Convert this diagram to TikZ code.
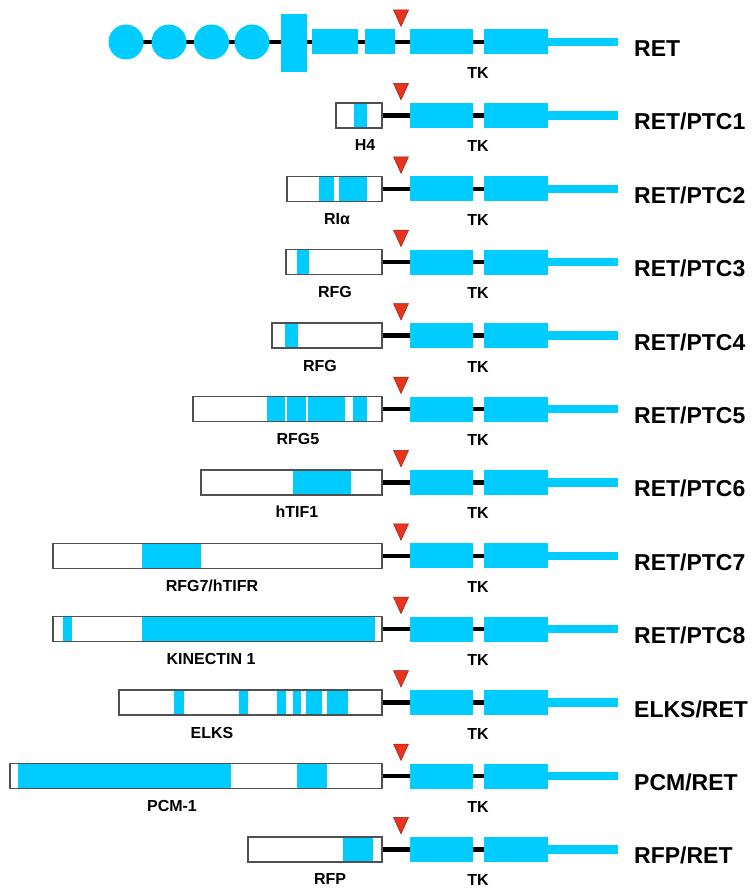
\documentclass[tikz,border=0pt]{standalone}
\usepackage{fontspec}
\setmainfont{Liberation Sans}
\definecolor{retcyan}{RGB}{0,204,255}
\definecolor{trired}{RGB}{232,52,30}
\definecolor{tribord}{RGB}{150,30,20}
\definecolor{boxgray}{RGB}{80,80,80}
\tikzset{
  dom/.style={fill=retcyan},
  linker/.style={line width=4.5pt, draw=black},
  partnerbox/.style={draw=boxgray, line width=1.3pt},
  bptri/.style={fill=trired, draw=tribord, line width=0.5pt},
  fuslabel/.style={font=\bfseries\fontsize{23}{23}\selectfont, anchor=base west, inner sep=0pt},
  domlabel/.style={font=\bfseries\fontsize{16}{16}\selectfont, anchor=base, inner sep=0pt},
}
\newcommand\RETtail[1]{%
  \fill[dom] (410,#1-12.5) rectangle (473,#1+12.5);
  \fill[dom] (484,#1-12.5) rectangle (548,#1+12.5);
  \fill[dom] (547,#1-4.2) rectangle (618,#1+4.2);
  \filldraw[bptri] (393.5,#1-32) -- (408.5,#1-32) -- (401,#1-15.5) -- cycle;
}
\newcommand\fusrow[7]{%
  \draw[linker] (382,#2) -- (486,#2);
  \fill[white] (#3,#2-12.5) rectangle (382,#2+12.5);
  \foreach \a/\b in {#4} {\fill[dom] (\a,#2-12.5) rectangle (\b,#2+12.5);}
  \draw[partnerbox] (#3,#2-12.5) rectangle (382,#2+12.5);
  \RETtail{#2}
  \node[domlabel] (g#1) at (#6,#2+35.5) {#5};
  \node[domlabel] (tk#1) at (478,#2+36.5) {TK};
  \node[fuslabel] (n#1) at (634,#2+14.5) {#7};
}
\begin{document}
\begin{tikzpicture}[x=1pt,y=-1pt]
\useasboundingbox (0,0) rectangle (752,888);
% RET
\draw[linker] (126,42) -- (486,42);
\foreach \cx in {126,169,211.5,252} {\fill[dom] (\cx,42) circle (17.5);}
\fill[dom] (281,14) rectangle (307,72);
\fill[dom] (312,29.5) rectangle (358,54.5);
\fill[dom] (365,29.5) rectangle (395,54.5);
\RETtail{42}
\node[domlabel] (tk0) at (478,78.5) {TK};
\node[fuslabel] (n0) at (634,56.5) {RET};
% fusions
\fusrow{1}{115.4}{336}{354/367}{H4}{365}{RET/PTC1}
\fusrow{2}{188.8}{287}{319/334,339/367}{RIα}{337}{RET/PTC2}
\fusrow{3}{262.2}{286}{297/309}{RFG}{335}{RET/PTC3}
\fusrow{4}{335.6}{272}{285/298}{RFG}{320}{RET/PTC4}
\fusrow{5}{409}{193}{267/285,287/306,308/345,353/367}{RFG5}{298}{RET/PTC5}
\fusrow{6}{482.4}{201}{293/351}{hTIF1}{297}{RET/PTC6}
\fusrow{7}{555.8}{53}{142/201}{RFG7/hTIFR}{212}{RET/PTC7}
\fusrow{8}{629.2}{53}{63/72,142/375}{KINECTIN 1}{211}{RET/PTC8}
\fusrow{9}{702.6}{119}{174/184,239/248,277/286,293/301,306/322,327/348}{ELKS}{212}{ELKS/RET}
\fusrow{10}{776}{10}{18/231,297/327}{PCM-1}{172}{PCM/RET}
\fusrow{11}{849.4}{248}{343/373}{RFP}{330}{RFP/RET}
\end{tikzpicture}
\end{document}
